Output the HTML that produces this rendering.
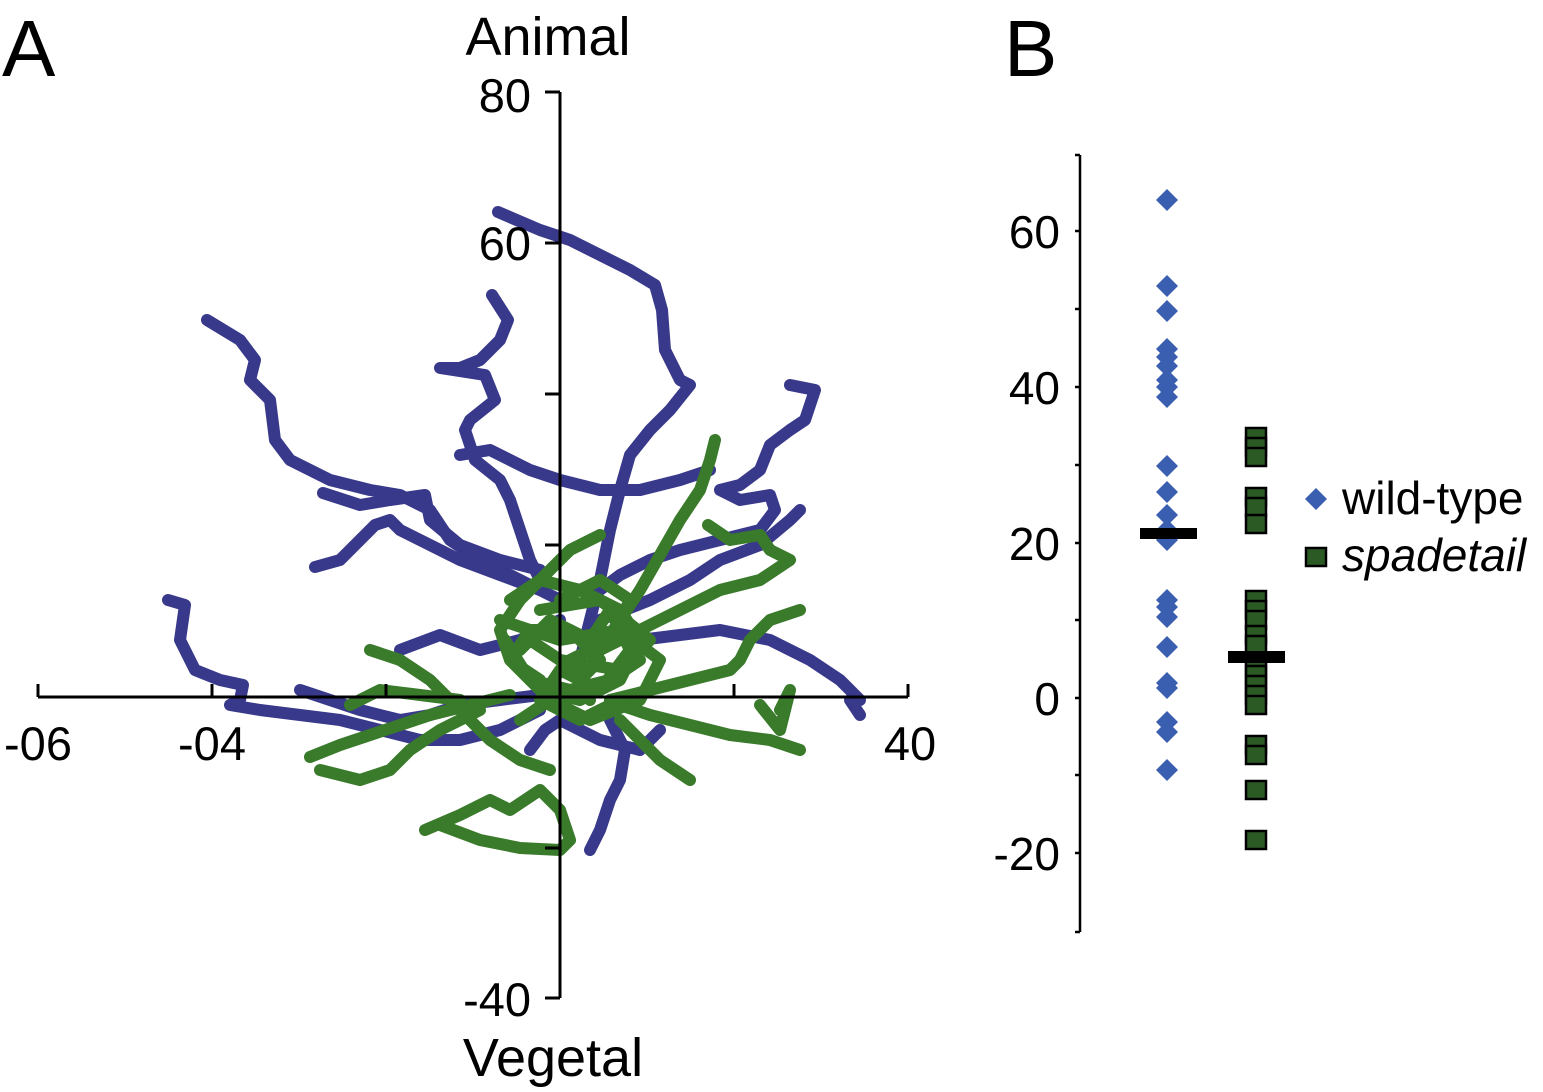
<!DOCTYPE html>
<html><head><meta charset="utf-8"><style>
html,body{margin:0;padding:0;background:#fff;}
svg{display:block;font-family:"Liberation Sans",Arial,sans-serif;}
</style></head><body>
<svg width="1543" height="1092" viewBox="0 0 1543 1092" xmlns="http://www.w3.org/2000/svg">
<rect width="1543" height="1092" fill="#fff"/>
<text x="2" y="76" font-size="80">A</text>
<text x="1004" y="76" font-size="80">B</text>
<text x="548" y="55" font-size="54" text-anchor="middle">Animal</text>
<text x="553" y="1076" font-size="54" text-anchor="middle">Vegetal</text>

<!-- Panel A trajectories -->
<g fill="none" stroke="#39398b" stroke-width="12" stroke-linecap="round" stroke-linejoin="round">
<polyline points="498,212 540,230 570,240 600,255 630,270 655,285 662,310 665,350 680,380 690,385 670,410 650,430 630,455 620,490 610,530 600,580 590,620 580,660"/>
<polyline points="207,320 240,340 255,360 250,380 270,400 275,440 290,460 330,480 370,490 400,495 430,510 450,540 480,560 520,580 560,600"/>
<polyline points="492,295 508,320 500,340 480,360 460,368 440,368 485,375 495,400 470,420 465,430 475,460 500,480 510,500 520,530 530,560 545,590"/>
<polyline points="790,385 815,390 805,420 790,430 770,445 760,470 740,485 720,490 740,500 770,495 775,510 760,530 720,540 680,550 650,560 620,575 600,590"/>
<polyline points="323,493 360,505 390,500 425,495 430,520 460,545 500,560 540,570"/>
<polyline points="315,567 340,560 360,540 375,525 390,520 400,530 420,540 460,560 500,575 540,590"/>
<polyline points="168,600 185,605 180,640 195,670 220,680 243,685 240,700 230,705 260,710 300,715 340,720 380,730 420,740 460,740 500,730 540,710"/>
<polyline points="460,455 490,450 510,460 530,470 560,480 600,490 640,490 680,480 710,470"/>
<polyline points="800,510 790,520 760,545 720,560 690,580 650,600 600,620"/>
<polyline points="860,700 840,680 810,660 770,640 720,630 680,635 640,640"/>
<polyline points="590,850 600,830 610,800 620,780 625,750 610,720"/>
<polyline points="300,690 330,700 360,710 400,720 430,715 460,705 500,700 540,695"/>
<polyline points="400,650 440,635 480,650 520,640 560,620"/>
<polyline points="530,750 545,730 560,720 600,740 640,750 660,730"/>
<polyline points="860,715 850,700"/>
</g>
<g fill="none" stroke="#397a2b" stroke-width="12" stroke-linecap="round" stroke-linejoin="round">
<polyline points="715,440 710,460 700,490 680,520 660,555 640,590 620,620 600,650 580,680"/>
<polyline points="708,525 730,540 760,535 770,550 790,560 760,580 720,590 680,610 640,630 600,650"/>
<polyline points="600,535 570,550 550,570 520,600 500,630 510,660 540,680"/>
<polyline points="800,610 770,620 750,640 740,660 730,670 690,680 650,690 610,700"/>
<polyline points="800,750 770,740 730,735 690,725 650,715 620,705"/>
<polyline points="310,757 340,745 370,735 400,725 430,715 470,705 510,695"/>
<polyline points="320,770 360,780 390,770 410,750 440,730 480,710"/>
<polyline points="425,830 460,815 490,800 510,810 540,790 560,810 570,840 560,850 520,848 480,840 440,825"/>
<polyline points="370,650 400,660 430,680 450,700 470,720 490,740 520,760 550,770"/>
<polyline points="760,705 780,730 790,690 780,710"/>
<polyline points="690,780 660,760 640,740 620,720"/>
<polyline points="350,705 380,690 420,695 460,700"/>
<polyline points="510,600 540,580 580,590 620,610 640,640 620,680 580,700 540,690 510,660 530,630 570,630 600,660 580,680"/>
<polyline points="500,620 560,640 620,630 660,660 640,700 590,720 550,700 520,720"/>
<polyline points="540,610 600,600 650,640 620,670 560,660 530,640"/>
<polyline points="520,650 550,620 590,640 610,610 630,650 600,690 560,670 540,700 580,720 620,700"/>
<polyline points="560,600 600,580 630,600 610,640 570,660 590,700"/>
<polyline points="505,640 530,680 570,690 610,680 640,660"/>
</g>

<!-- Panel A axes -->
<g stroke="#000" stroke-width="3" fill="none">
<line x1="38" y1="697" x2="908" y2="697"/>
<line x1="560" y1="92" x2="560" y2="998"/>
<line x1="38" y1="697" x2="38" y2="684"/>
<line x1="212" y1="697" x2="212" y2="684"/>
<line x1="386" y1="697" x2="386" y2="684"/>
<line x1="734" y1="697" x2="734" y2="684"/>
<line x1="908" y1="697" x2="908" y2="684"/>
<line x1="545" y1="92" x2="560" y2="92"/>
<line x1="545" y1="243" x2="560" y2="243"/>
<line x1="545" y1="394" x2="560" y2="394"/>
<line x1="545" y1="545" x2="560" y2="545"/>
<line x1="545" y1="848" x2="560" y2="848"/>
<line x1="545" y1="998" x2="560" y2="998"/>
</g>
<g font-size="47">
<text x="531" y="112" text-anchor="end">80</text>
<text x="531" y="260" text-anchor="end">60</text>
<text x="531" y="1016" text-anchor="end">-40</text>
<text x="38" y="760" text-anchor="middle">-06</text>
<text x="212" y="760" text-anchor="middle">-04</text>
<text x="910" y="760" text-anchor="middle">40</text>
</g>

<!-- Panel B axis -->
<g stroke="#000" stroke-width="2.5">
<line x1="1080" y1="155" x2="1080" y2="932"/>
<line x1="1075" y1="155" x2="1080" y2="155"/>
<line x1="1075" y1="231" x2="1080" y2="231"/>
<line x1="1075" y1="309" x2="1080" y2="309"/>
<line x1="1075" y1="387" x2="1080" y2="387"/>
<line x1="1075" y1="465" x2="1080" y2="465"/>
<line x1="1075" y1="543" x2="1080" y2="543"/>
<line x1="1075" y1="620" x2="1080" y2="620"/>
<line x1="1075" y1="698" x2="1080" y2="698"/>
<line x1="1075" y1="775" x2="1080" y2="775"/>
<line x1="1075" y1="853" x2="1080" y2="853"/>
<line x1="1075" y1="932" x2="1080" y2="932"/>
</g>
<g font-size="46" text-anchor="end">
<text x="1060" y="248">60</text>
<text x="1060" y="404">40</text>
<text x="1060" y="560">20</text>
<text x="1060" y="715">0</text>
<text x="1060" y="870">-20</text>
</g>

<!-- diamonds -->
<g fill="#3a5fb0">
<path id="d" d="M0,-11 L11,0 L0,11 L-11,0Z" transform="translate(1167,200)"/>
<use href="#d" transform="translate(0,86)"/><use href="#d" transform="translate(0,111)"/>
<use href="#d" transform="translate(0,149)"/><use href="#d" transform="translate(0,157)"/>
<use href="#d" transform="translate(0,166)"/><use href="#d" transform="translate(0,180)"/>
<use href="#d" transform="translate(0,187)"/><use href="#d" transform="translate(0,197)"/>
<use href="#d" transform="translate(0,266)"/><use href="#d" transform="translate(0,292)"/>
<use href="#d" transform="translate(0,315)"/><use href="#d" transform="translate(0,330)"/>
<use href="#d" transform="translate(0,340)"/><use href="#d" transform="translate(0,400)"/>
<use href="#d" transform="translate(0,407)"/><use href="#d" transform="translate(0,417)"/>
<use href="#d" transform="translate(0,447)"/><use href="#d" transform="translate(0,483)"/>
<use href="#d" transform="translate(0,488)"/><use href="#d" transform="translate(0,522)"/>
<use href="#d" transform="translate(0,532)"/><use href="#d" transform="translate(0,570)"/>
</g>
<rect x="1140" y="528" width="57" height="11" fill="#000"/>

<!-- squares -->
<g fill="#2c5a25" stroke="#000" stroke-width="2.5">
<rect x="1246" y="428" width="20" height="18"/><rect x="1246" y="438" width="20" height="18"/>
<rect x="1246" y="448" width="20" height="18"/><rect x="1246" y="488" width="20" height="18"/>
<rect x="1246" y="498" width="20" height="18"/><rect x="1246" y="515" width="20" height="18"/>
<rect x="1246" y="591" width="20" height="18"/><rect x="1246" y="601" width="20" height="18"/>
<rect x="1246" y="611" width="20" height="18"/><rect x="1246" y="626" width="20" height="18"/>
<rect x="1246" y="636" width="20" height="18"/><rect x="1246" y="656" width="20" height="18"/>
<rect x="1246" y="666" width="20" height="18"/><rect x="1246" y="676" width="20" height="18"/>
<rect x="1246" y="686" width="20" height="18"/><rect x="1246" y="696" width="20" height="18"/>
<rect x="1246" y="736" width="20" height="18"/><rect x="1246" y="746" width="20" height="18"/>
<rect x="1246" y="781" width="20" height="18"/><rect x="1246" y="831" width="20" height="18"/>
</g>
<rect x="1228" y="651" width="57" height="12" fill="#000"/>

<!-- legend -->
<path d="M1316,488 L1327,499 L1316,510 L1305,499Z" fill="#3a5fb0"/>
<text x="1342" y="514" font-size="46">wild-type</text>
<rect x="1306" y="548" width="20" height="18" fill="#2c5a25" stroke="#000" stroke-width="2.5"/>
<text x="1342" y="571" font-size="46" font-style="italic">spadetail</text>
</svg>
</body></html>
